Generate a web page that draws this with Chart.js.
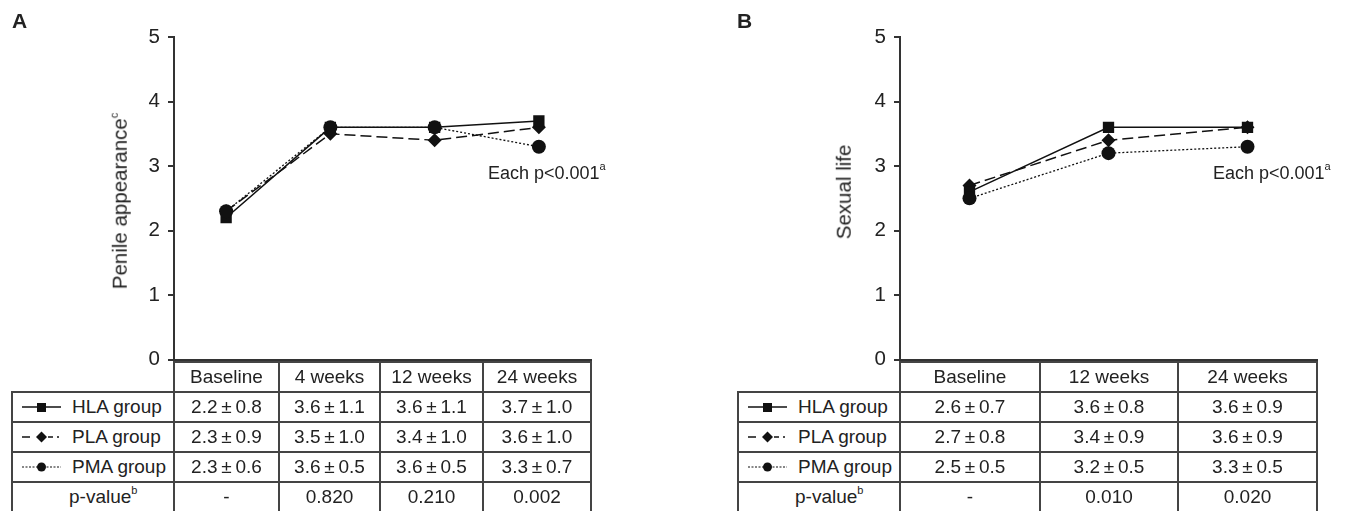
<!DOCTYPE html>
<html><head><meta charset="utf-8">
<script src="https://cdn.jsdelivr.net/npm/chart.js@4.4.1/dist/chart.umd.min.js"></script>
<style>
body{margin:0;background:#fff;}
#wrap{position:relative;width:1345px;height:511px;overflow:hidden;font-family:"Liberation Sans",Arial,Helvetica,sans-serif;color:#222;}
canvas{position:absolute;top:0;}
.t{position:absolute;white-space:nowrap;line-height:1;}
.hl{position:absolute;height:2px;background:#444;}
.vl{position:absolute;width:2px;background:#444;}
.cell{position:absolute;display:flex;align-items:center;justify-content:center;font-size:19px;white-space:nowrap;}
.lab{position:absolute;display:flex;align-items:center;font-size:19px;white-space:nowrap;}
sup{font-size:11px;line-height:0;vertical-align:0.8em;}
.rot{position:absolute;transform:translate(-50%,-50%) rotate(-90deg);white-space:nowrap;line-height:1;font-size:20.5px;}
</style></head>
<body><div id="wrap">
<canvas id="cA" width="601" height="380" style="left:0"></canvas>
<canvas id="cB" width="607" height="380" style="left:720px"></canvas>
</div>
<script>
// ---- Panel A: Penile appearance ----
const catsA = ['Baseline', '4 weeks', '12 weeks', '24 weeks'];
const hlaA = [2.2, 3.6, 3.6, 3.7];
const plaA = [2.3, 3.5, 3.4, 3.6];
const pmaA = [2.3, 3.6, 3.6, 3.3];
const hlaSdA = [0.8, 1.1, 1.1, 1.0];
const plaSdA = [0.9, 1.0, 1.0, 1.0];
const pmaSdA = [0.6, 0.5, 0.5, 0.7];
const pvalA = ['-', '0.820', '0.210', '0.002'];

// ---- Panel B: Sexual life ----
const catsB = ['Baseline', '12 weeks', '24 weeks'];
const hlaB = [2.6, 3.6, 3.6];
const plaB = [2.7, 3.4, 3.6];
const pmaB = [2.5, 3.2, 3.3];
const hlaSdB = [0.7, 0.8, 0.9];
const plaSdB = [0.8, 0.9, 0.9];
const pmaSdB = [0.5, 0.5, 0.5];
const pvalB = ['-', '0.010', '0.020'];

const yTicks = [0, 1, 2, 3, 4, 5];
const groupNames = ['HLA group', 'PLA group', 'PMA group'];

const INK = '#111';
const AX = '#333';
const FONT = '"Liberation Sans", Arial, Helvetica, sans-serif';

function makeChart(id, cats, hla, pla, pma, yW) {
  return new Chart(document.getElementById(id), {
    type: 'line',
    data: {
      labels: cats,
      datasets: [
        {label: groupNames[0], data: hla, borderColor: INK, backgroundColor: INK, pointBorderColor: INK,
         pointBackgroundColor: INK, borderWidth: 1.5, pointStyle: 'rect', pointRadius: 8, pointBorderWidth: 0, order: 1},
        {label: groupNames[1], data: pla, borderColor: INK, backgroundColor: INK, pointBorderColor: INK,
         pointBackgroundColor: INK, borderWidth: 1.5, borderDash: [11, 5], pointStyle: 'rectRot', pointRadius: 7, pointBorderWidth: 0, order: 2},
        {label: groupNames[2], data: pma, borderColor: INK, backgroundColor: INK, pointBorderColor: INK,
         pointBackgroundColor: INK, borderWidth: 1.3, borderDash: [2, 2], pointStyle: 'circle', pointRadius: 7, pointBorderWidth: 0, order: 0}
      ]
    },
    options: {
      responsive: false, animation: false, events: [],
      layout: {padding: {left: 0, right: 10, top: 37, bottom: 18}},
      plugins: {legend: {display: false}, tooltip: {enabled: false}},
      scales: {
        x: {offset: true, grid: {display: false}, ticks: {display: false},
            border: {display: true, color: AX, width: 2},
            afterFit(s) { s.height = 0; }},
        y: {min: 0, max: 5,
            afterBuildTicks(s) { s.ticks = yTicks.map(v => ({value: v})); },
            ticks: {color: '#222', font: {size: 20.5, family: FONT}, padding: 8},
            grid: {drawOnChartArea: false, drawTicks: true, tickLength: 6, color: AX, lineWidth: 2},
            border: {display: true, color: AX, width: 2},
            afterFit(s) { s.width = yW; }}
      }
    }
  });
}

makeChart('cA', catsA, hlaA, plaA, pmaA, 174);
makeChart('cB', catsB, hlaB, plaB, pmaB, 180);

const wrap = document.getElementById('wrap');
function add(cls, style, html) {
  const d = document.createElement('div');
  d.className = cls;
  Object.assign(d.style, style);
  if (html !== undefined) d.innerHTML = html;
  wrap.appendChild(d);
  return d;
}

const rowsY = [362, 392, 422, 452, 482, 512];

function symbol(kind) {
  let line, mark;
  if (kind === 0) {
    line = '<line x1="0" y1="8" x2="39" y2="8" stroke="#111" stroke-width="1.5"/>';
    mark = '<rect x="15" y="4" width="9" height="9" fill="#111"/>';
  } else if (kind === 1) {
    line = '<line x1="0" y1="8" x2="8" y2="8" stroke="#111" stroke-width="1.5"/><line x1="26" y1="8" x2="31" y2="8" stroke="#111" stroke-width="1.5"/><line x1="35" y1="8" x2="37" y2="8" stroke="#111" stroke-width="1.5"/>';
    mark = '<polygon points="19.5,2.5 25,8 19.5,13.5 14,8" fill="#111"/>';
  } else {
    line = '<line x1="0" y1="8" x2="39" y2="8" stroke="#111" stroke-width="1.2" stroke-dasharray="2,1.5"/>';
    mark = '<circle cx="19.5" cy="8" r="4.5" fill="#111"/>';
  }
  return '<svg width="40" height="16" style="margin-right:10px;flex:none">' + line + mark + '</svg>';
}

function fmt(v, sd) { return v.toFixed(1) + '\u2009\u00b1\u2009' + sd.toFixed(1); }

function buildTable(legendLeft, xEdges, cats, series, sds, pvals) {
  const right = xEdges[xEdges.length - 1];
  add('hl', {left: (xEdges[0] - 1) + 'px', top: (rowsY[0] - 1) + 'px', width: (right - xEdges[0] + 2) + 'px'});
  for (let r = 1; r <= 4; r++) {
    add('hl', {left: (legendLeft - 1) + 'px', top: (rowsY[r] - 1) + 'px', width: (right - legendLeft + 2) + 'px'});
  }
  add('vl', {left: (legendLeft - 1) + 'px', top: (rowsY[1] - 1) + 'px', height: (rowsY[5] - rowsY[1] + 2) + 'px'});
  xEdges.forEach(x => add('vl', {left: (x - 1) + 'px', top: (rowsY[0] - 1) + 'px', height: (rowsY[5] - rowsY[0] + 2) + 'px'}));
  cats.forEach((c, i) => add('cell', {left: xEdges[i] + 'px', top: rowsY[0] + 'px',
    width: (xEdges[i + 1] - xEdges[i]) + 'px', height: (rowsY[1] - rowsY[0]) + 'px'}, c));
  for (let g = 0; g < 3; g++) {
    add('lab', {left: (legendLeft + 10) + 'px', top: rowsY[g + 1] + 'px', height: (rowsY[g + 2] - rowsY[g + 1]) + 'px'},
        symbol(g) + '<span>' + groupNames[g] + '</span>');
    cats.forEach((c, i) => add('cell', {left: xEdges[i] + 'px', top: rowsY[g + 1] + 'px',
      width: (xEdges[i + 1] - xEdges[i]) + 'px', height: (rowsY[g + 2] - rowsY[g + 1]) + 'px'}, fmt(series[g][i], sds[g][i])));
  }
  add('lab', {left: (legendLeft + 57) + 'px', top: rowsY[4] + 'px', height: (rowsY[5] - rowsY[4]) + 'px'}, '<span>p-value<sup>b</sup></span>');
  cats.forEach((c, i) => add('cell', {left: xEdges[i] + 'px', top: rowsY[4] + 'px',
    width: (xEdges[i + 1] - xEdges[i]) + 'px', height: (rowsY[5] - rowsY[4]) + 'px'}, pvals[i]));
}

buildTable(12, [174, 279, 380, 483, 591], catsA, [hlaA, plaA, pmaA], [hlaSdA, plaSdA, pmaSdA], pvalA);
buildTable(738, [900, 1040, 1178, 1317], catsB, [hlaB, plaB, pmaB], [hlaSdB, plaSdB, pmaSdB], pvalB);

add('t', {left: '12px', top: '10px', fontSize: '21px', fontWeight: 'bold'}, 'A');
add('t', {left: '737px', top: '10px', fontSize: '21px', fontWeight: 'bold'}, 'B');
add('rot', {left: '120px', top: '201px'}, 'Penile appearance<sup>c</sup>');
add('rot', {left: '844px', top: '192px'}, 'Sexual life');
add('t', {left: '488px', top: '164px', fontSize: '18px'}, 'Each p&lt;0.001<sup>a</sup>');
add('t', {left: '1213px', top: '164px', fontSize: '18px'}, 'Each p&lt;0.001<sup>a</sup>');
</script>
</body></html>
